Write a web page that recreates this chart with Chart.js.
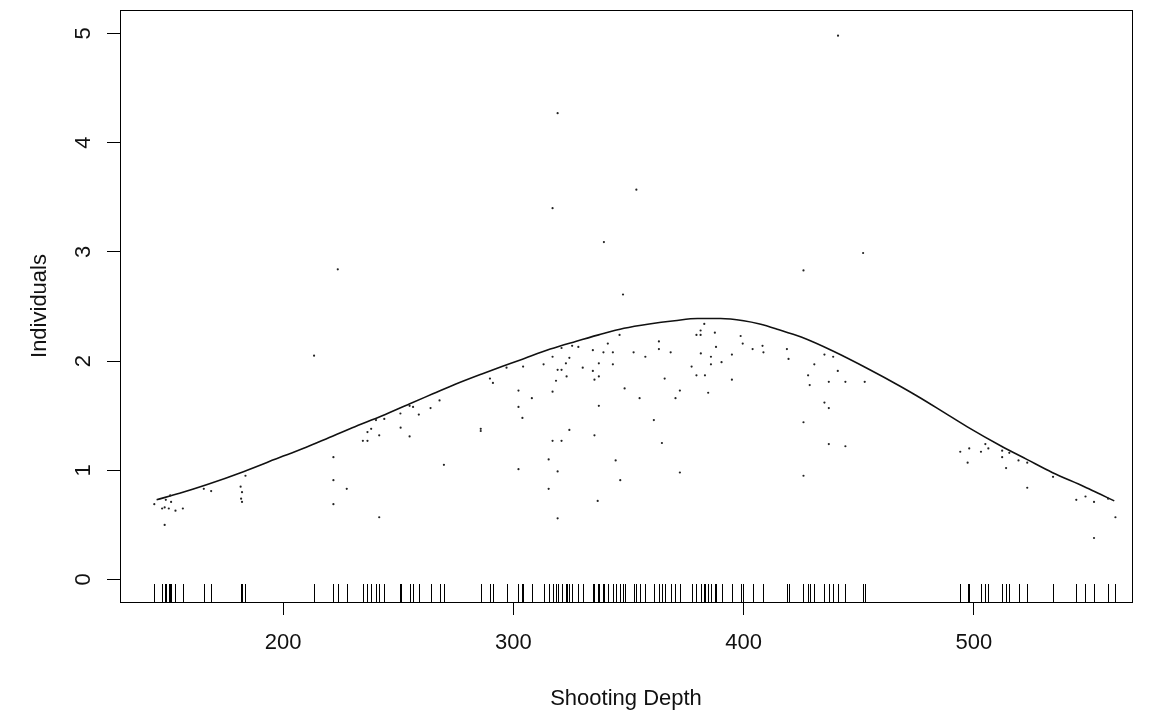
<!DOCTYPE html>
<html>
<head>
<meta charset="utf-8">
<title>Individuals vs Shooting Depth</title>
<script src="https://cdn.jsdelivr.net/npm/chart.js@4/dist/chart.umd.min.js"></script>
<style>
  html, body { margin: 0; padding: 0; background: #fff; }
  canvas { display: block; }
</style>
</head>
<body>
<canvas id="chart" width="1152" height="719"></canvas>
<script>
/* ================= DATA ================= */
// observed hauls: shooting depth and individuals
const depth = [
  144, 147.4, 148.5, 149, 148.5, 150.3, 151.3, 153.2, 156.4, 150.9, 165.5, 168.7, 181.5, 182.1, 181.7, 182.1, 183.6,
  213.4, 223.7, 221.8, 221.8, 221.8, 227.6, 234.6, 236.6, 236.6, 238.2, 240.3, 241.7, 241.7, 243.9, 250.9, 251,
  254.9, 254.9, 256.4, 258.9, 264, 267.9, 269.8, 285.8, 285.8, 289.8, 291.1, 297, 302.2, 302.2, 302.2, 303.9,
  304.2, 308, 313.1, 315.3, 315.3, 317, 317, 317, 317, 318.5, 319.2, 319.2, 319.2, 319.2, 320.9, 320.9, 320.9,
  322.8, 323.1, 324.3, 324.3, 325.5, 328.2, 330.1, 334.5, 334.5, 335.2, 335.2, 336.6, 337.1, 337.1, 337.1, 339.1,
  339.3, 341, 343.2, 343.2, 344.4, 346.1, 346.4, 347.6, 348.3, 352.2, 353.4, 354.8, 357.3, 361, 363.2, 363.2,
  364.5, 365.7, 368.3, 370.4, 372.3, 372.3, 377.4, 379.5, 379.5, 381.3, 381.3, 381.4, 382.9, 383.2, 384.6, 385.8,
  385.8, 387.5, 388, 390.4, 394.9, 394.9, 398.7, 399.6, 403.9, 408.2, 408.6, 418.8, 419.5, 426, 426, 426, 428,
  428.7, 430.7, 435.1, 435.1, 437, 437, 437, 438.9, 440.9, 441, 444.2, 444.2, 451.9, 452.6,
  494.1, 497.3, 498, 503.1, 505, 506.3, 512.3, 512.3, 514, 515.4, 519.4, 523.2, 523.2, 534.4, 544.5, 548.5,
  552.2, 552.2, 558.3, 561.5
];
const individuals = [
  0.69, 0.65, 0.66, 0.73, 0.50, 0.65, 0.71, 0.63, 0.65, 0.77, 0.83, 0.81, 0.85, 0.80, 0.74, 0.71, 0.95,
  2.05, 2.84, 1.12, 0.91, 0.69, 0.83, 1.27, 1.27, 1.35, 1.38, 1.46, 1.32, 0.57, 1.47, 1.52, 1.39,
  1.31, 1.59, 1.58, 1.51, 1.57, 1.64, 1.05, 1.38, 1.36, 1.84, 1.80, 1.94, 1.73, 1.58, 1.01, 1.48,
  1.95, 1.66, 1.97, 1.10, 0.83, 2.04, 1.72, 1.27, 3.40, 1.82, 1.92, 0.99, 0.56, 4.27, 1.92, 2.12, 1.27,
  1.98, 1.86, 2.03, 1.37, 2.14, 2.13, 1.94, 2.10, 1.91, 1.83, 1.32, 0.72, 1.98, 1.86, 1.59, 2.08,
  3.09, 2.16, 2.08, 1.97, 1.09, 2.24, 0.91, 2.61, 1.75, 2.08, 3.57, 1.66, 2.04, 1.46, 2.18, 2.11,
  1.25, 1.84, 2.08, 1.66, 1.73, 0.98, 1.95, 2.24, 1.87, 2.28, 2.24, 2.07, 2.34, 1.87, 1.71, 2.04,
  1.97, 2.26, 2.13, 1.99, 2.06, 1.83, 2.23, 2.16, 2.11, 2.14, 2.08, 2.11, 2.02, 1.44, 0.95, 2.83, 1.87,
  1.78, 1.97, 2.06, 1.62, 1.81, 1.57, 1.24, 2.04, 1.91, 4.98, 1.81, 1.22, 2.99, 1.81,
  1.17, 1.07, 1.20, 1.17, 1.24, 1.20, 1.18, 1.12, 1.02, 1.16, 1.09, 1.07, 0.84, 0.94, 0.73, 0.76,
  0.71, 0.38, 0.74, 0.57
];

// smoothed fit
const fitDepth = [
  145, 155, 167, 183, 200, 210, 220, 230, 243, 255, 265, 275, 286, 295, 303, 316, 327, 337, 348, 359,
  370, 380, 390, 400, 407, 415, 425, 439, 454, 468, 477, 487, 497, 512, 523, 534, 548, 555, 561
];
const fitIndividuals = [
  0.73, 0.79, 0.87, 0.99, 1.13, 1.21, 1.30, 1.39, 1.50, 1.61, 1.70, 1.79, 1.88, 1.95, 2.01, 2.11, 2.18, 2.24, 2.30, 2.34,
  2.37, 2.39, 2.39, 2.37, 2.34, 2.29, 2.22, 2.09, 1.93, 1.77, 1.66, 1.53, 1.40, 1.22, 1.10, 0.98, 0.85, 0.78, 0.72
];

const xTicks = [200, 300, 400, 500];
const yTicks = [0, 1, 2, 3, 4, 5];

/* ================= PLUGINS ================= */
// rug along the bottom + frame around the plot region
const rugFrame = {
  id: 'rugFrame',
  afterDatasetsDraw(chart){
    const {ctx, chartArea, scales} = chart;
    ctx.save();
    ctx.strokeStyle = '#000';
    ctx.lineWidth = 1;
    ctx.beginPath();
    depth.forEach(d => {
      const x = Math.round(scales.x.getPixelForValue(d)) + 0.5;
      ctx.moveTo(x, chartArea.bottom);
      ctx.lineTo(x, chartArea.bottom - 18);
    });
    ctx.stroke();
    ctx.strokeRect(chartArea.left + 0.5, chartArea.top + 0.5, chartArea.width, chartArea.height);
    ctx.restore();
  }
};

/* ================= CHART ================= */
const font = { family: "'Liberation Sans', Arial, sans-serif", size: 22 };

new Chart(document.getElementById('chart'), {
  data: {
    datasets: [
      {
        type: 'scatter',
        data: depth.map((d, i) => ({ x: d, y: individuals[i] })),
        pointRadius: 1.1,
        pointBorderWidth: 0,
        pointBackgroundColor: '#222'
      },
      {
        type: 'line',
        data: fitDepth.map((d, i) => ({ x: d, y: fitIndividuals[i] })),
        borderColor: '#111',
        borderWidth: 1.6,
        pointRadius: 0,
        cubicInterpolationMode: 'monotone',
        fill: false
      }
    ]
  },
  options: {
    responsive: false,
    animation: false,
    devicePixelRatio: 1,
    layout: { padding: { top: 10, right: 20, left: 0, bottom: 0 } },
    plugins: { legend: { display: false }, tooltip: { enabled: false } },
    scales: {
      x: {
        type: 'linear',
        min: 129.1,
        max: 568.7,
        afterBuildTicks: axis => { axis.ticks = xTicks.map(v => ({ value: v })); },
        afterFit: axis => { axis.height = 117; axis.paddingLeft = 0; axis.paddingRight = 0; },
        grid: { display: true, drawOnChartArea: false, drawTicks: true, tickLength: 13, tickColor: '#000', tickWidth: 1 },
        border: { display: false },
        ticks: { color: '#111', font: font, padding: 15, maxRotation: 0 },
        title: { display: true, text: 'Shooting Depth', color: '#111', font: font, padding: { top: 0, bottom: 7 } }
      },
      y: {
        type: 'linear',
        min: -0.206,
        max: 5.215,
        afterBuildTicks: axis => { axis.ticks = yTicks.map(v => ({ value: v })); },
        afterFit: axis => { axis.width = 120; axis.paddingTop = 0; axis.paddingBottom = 0; },
        grid: { display: true, drawOnChartArea: false, drawTicks: true, tickLength: 13, tickColor: '#000', tickWidth: 1 },
        border: { display: false },
        ticks: { color: '#111', font: font, padding: 17, minRotation: 90, maxRotation: 90, crossAlign: 'center' },
        title: { display: true, text: 'Individuals', color: '#111', font: font, padding: { top: 27, bottom: 0 } }
      }
    }
  },
  plugins: [rugFrame]
});
</script>
</body>
</html>
